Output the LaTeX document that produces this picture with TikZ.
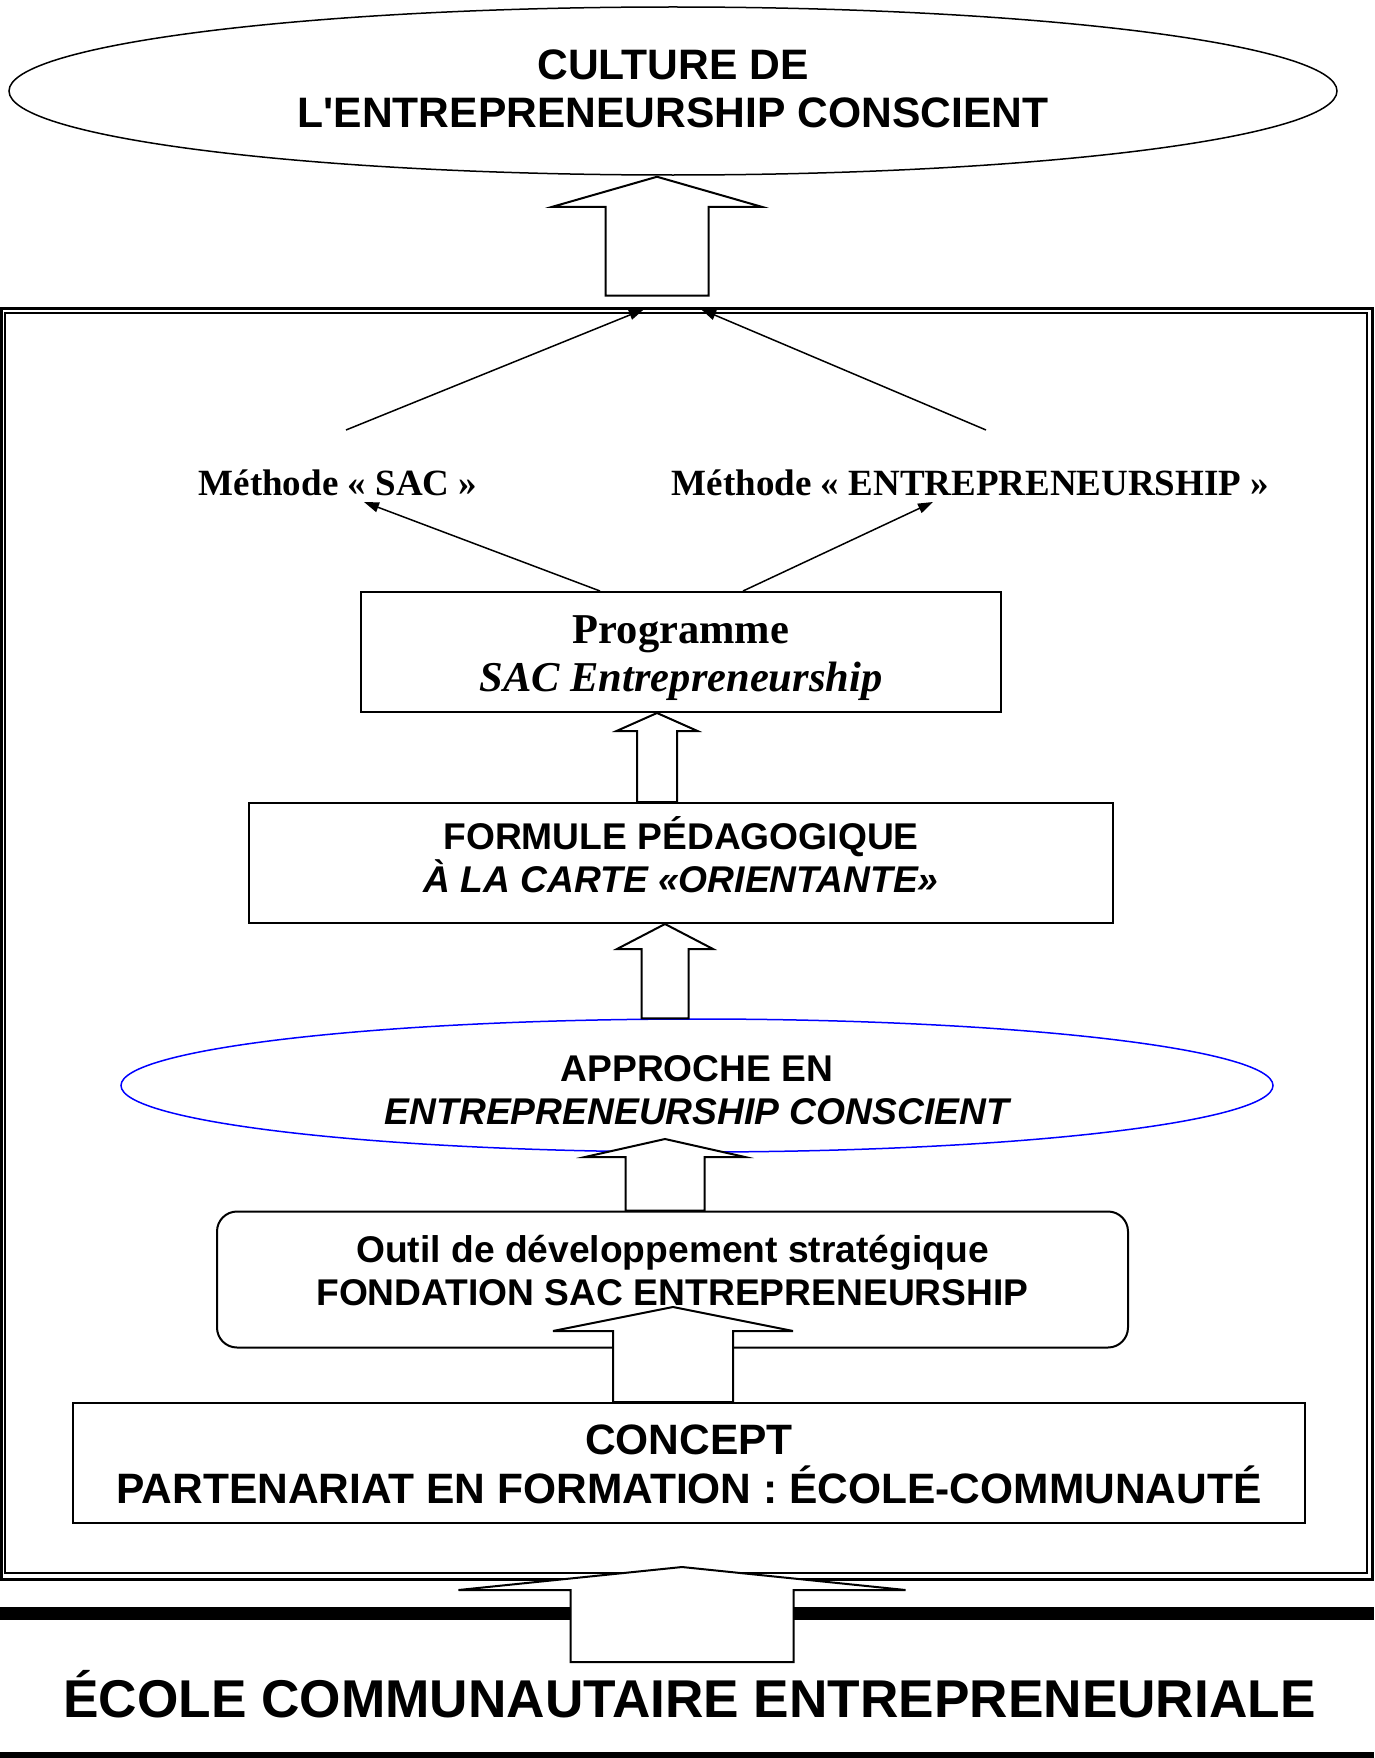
\documentclass[tikz,border=0pt]{standalone}
\usepackage{fontspec}
\newfontfamily\arial{Liberation Sans}
\newfontfamily\tnr{Liberation Serif}
\usetikzlibrary{shapes.geometric,arrows.meta,calc}
\newcommand\hollowarrow[5]{%
  \draw[hollow] let \p1=(#1), \p2=(#2) in
    (\x1,\y1) -- (\x1+#4pt,\y1-#3pt) -- (\x1+#5pt,\y1-#3pt) -- (\x1+#5pt,\y2)
    -- (\x1-#5pt,\y2) -- (\x1-#5pt,\y1-#3pt) -- (\x1-#4pt,\y1-#3pt) -- cycle;}
\begin{document}
\begin{tikzpicture}[x=1pt,y=-1pt,
  box/.style={draw,line width=2pt,inner sep=0pt,align=center,text depth=0pt},
  sanslarge/.style={font={\arial\bfseries\fontsize{42.6}{48}\selectfont}},
  sansmid/.style={font={\arial\bfseries\fontsize{37.2}{43}\selectfont}},
  seriflarge/.style={font={\tnr\bfseries\fontsize{42.5}{48}\selectfont}},
  serifmid/.style={font={\tnr\bfseries\fontsize{37}{42}\selectfont}},
  sanshuge/.style={font={\arial\bfseries\fontsize{53.2}{60}\selectfont}},
  hollow/.style={draw,line width=2pt,fill=white,line join=miter},
  linkarrow/.style={line width=1.5pt,-{Triangle[length=15pt,width=10pt]}}]
\useasboundingbox (0,0) rectangle (1374,1758);

% frame (double line)
\node[draw,line width=3pt,minimum width=1371pt,minimum height=1271pt,inner sep=0pt] (frameout) at (686.5,943.5) {};
\node[draw,line width=1.5pt,minimum width=1362pt,minimum height=1260pt,inner sep=0pt] (framein) at (686,943) {};

% bottom bands
\fill (0,1607) rectangle (1374,1620);
\fill (0,1752) rectangle (1374,1758);

% shapes with text
\node[box,ellipse,line width=1.5pt,minimum width=1328pt,minimum height=168pt,sanslarge,text height=74pt] (culture) at (673,91)
  {CULTURE DE\\L'ENTREPRENEURSHIP CONSCIENT};

\node[serifmid,anchor=base,inner sep=0pt] (m1) at (338,495) {Méthode « SAC »};
\node[serifmid,anchor=base,inner sep=0pt] (m2) at (970.5,495) {Méthode « ENTREPRENEURSHIP »};

\node[box,minimum width=640pt,minimum height=120pt,seriflarge,text height=78pt] (prog) at (681,652)
  {Programme\\\itshape SAC Entrepreneurship};

\node[box,minimum width=864pt,minimum height=120pt,sansmid,text height=58pt] (formule) at (681,863)
  {FORMULE PÉDAGOGIQUE\\\itshape À LA CARTE «ORIENTANTE»};

\node[box,ellipse,draw=blue,line width=1.5pt,minimum width=1152pt,minimum height=133pt,sansmid,text height=77pt] (approche) at (697,1085.5)
  {APPROCHE EN\\\itshape ENTREPRENEURSHIP CONSCIENT};

\node[box,rounded corners=20pt,minimum width=911pt,minimum height=136pt,sansmid,text height=51pt] (outil) at (672.5,1279.5)
  {Outil de développement stratégique\\FONDATION SAC ENTREPRENEURSHIP};

\node[box,minimum width=1232pt,minimum height=120pt,font={\arial\bfseries\fontsize{42.5}{49}\selectfont},text height=80pt] (concept) at (689,1463)
  {CONCEPT\\PARTENARIAT EN FORMATION : ÉCOLE-COMMUNAUTÉ};

\node[sanshuge,anchor=base,inner sep=0pt] (ecole) at (689.5,1717) {ÉCOLE COMMUNAUTAIRE ENTREPRENEURIALE};

% thin arrows
\draw[linkarrow] ($(prog.north)+(-81,0)$) -- ($(m1.base)+(26,7)$);
\draw[linkarrow] ($(prog.north)+(62,0)$) -- ($(m2.base)+(-37.5,7)$);
\draw[linkarrow] ($(m1.base)+(8,-65)$) -- ($(framein.north)+(-42,-3)$);
\draw[linkarrow] ($(m2.base)+(15.5,-65)$) -- ($(framein.north)+(15,-3)$);

% hollow block arrows
\hollowarrow{$(culture.south)+(-16,1)$}{$(frameout.north)+(0,-11)$}{30}{104.5}{51.5}
\hollowarrow{$(prog.south)+(-24,0)$}{formule.north}{18}{40.5}{20}
\hollowarrow{$(formule.south)+(-16,0)$}{approche.north}{25}{48}{23.5}
\hollowarrow{$(approche.center)+(-32,53.5)$}{outil.north}{18}{80}{39.5}
\hollowarrow{$(outil.center)+(0.5,27.5)$}{concept.north}{24}{120}{60}
\hollowarrow{$(concept.south)+(-7,43)$}{$(ecole.base)+(0,-55)$}{23}{223.5}{111.5}
\end{tikzpicture}
\end{document}
